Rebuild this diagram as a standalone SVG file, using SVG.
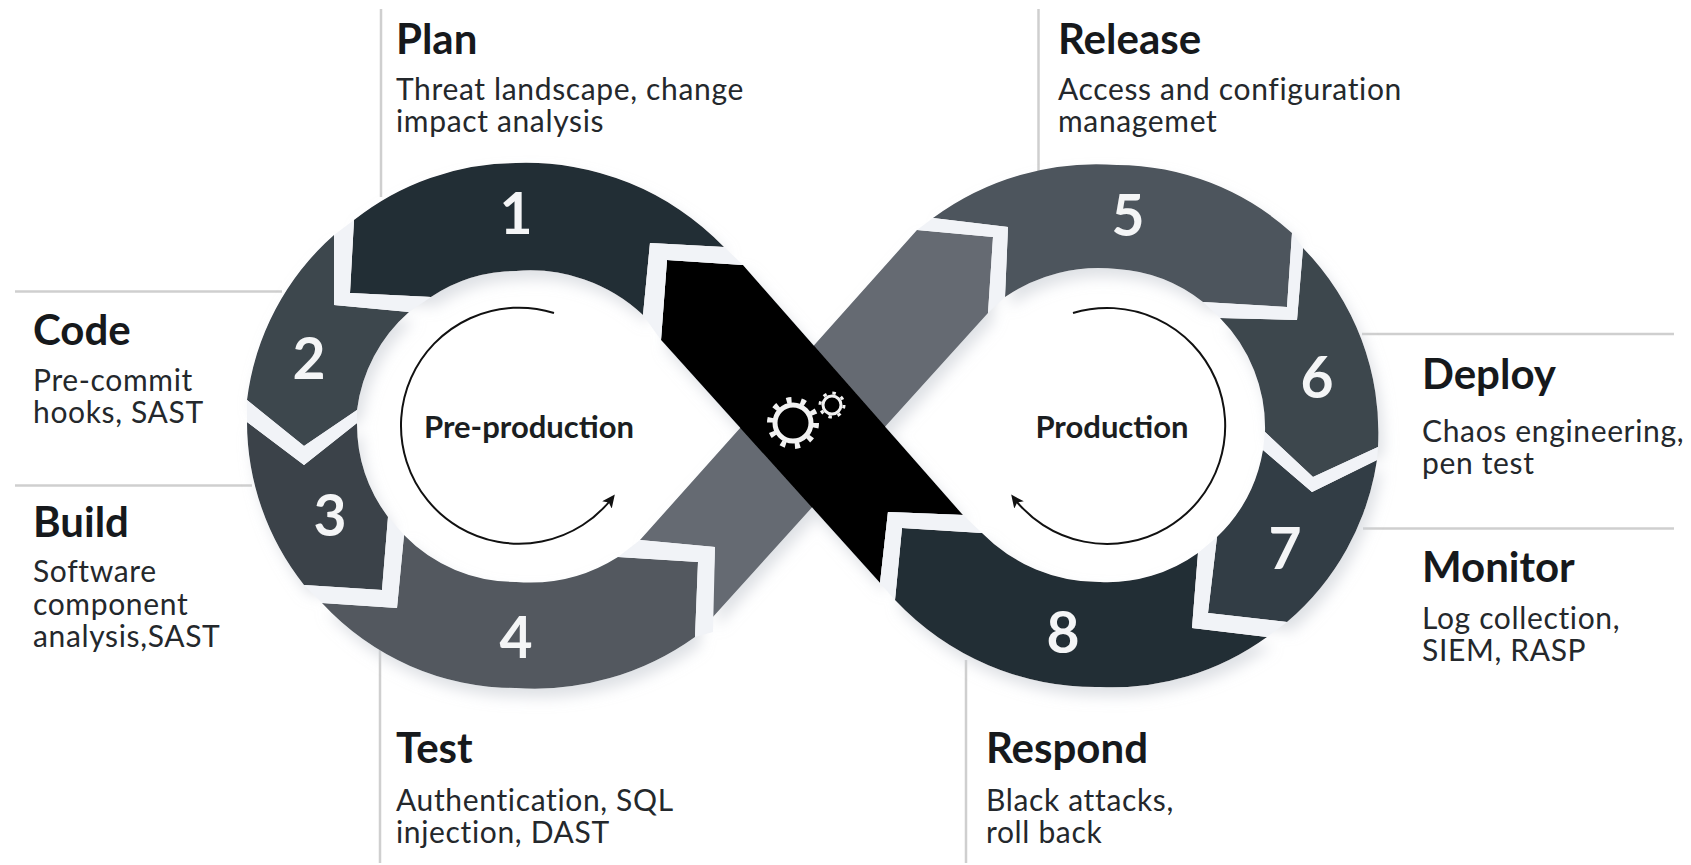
<svg xmlns="http://www.w3.org/2000/svg" width="1691" height="865" viewBox="0 0 1691 865">
<style>
.gap{fill:#f1f3f7}
.lead{stroke:#cfcfcf;stroke-width:2.5;fill:none}
.num{font-family:"Lato","Liberation Sans",sans-serif;font-size:57px;font-weight:700;fill:#f4f5f6;text-anchor:middle}
.head{font-family:"Lato","Liberation Sans",sans-serif;font-size:42px;font-weight:700;fill:#16191c}
.sub{font-family:"Lato","Liberation Sans",sans-serif;font-size:30px;fill:#24282c;letter-spacing:.65px}
.mid{font-family:"Lato","Liberation Sans",sans-serif;font-size:31px;font-weight:700;fill:#1b1e21;text-anchor:middle}
.flow{fill:none;stroke:#111;stroke-width:2}
</style>
<defs>
<filter id="soft" x="-10%" y="-10%" width="120%" height="125%"><feDropShadow dx="5" dy="9" stdDeviation="7" flood-color="#c9cdd4" flood-opacity=".6"/></filter>
<marker id="head" markerWidth="14" markerHeight="14" refX="10" refY="6" orient="auto" markerUnits="userSpaceOnUse"><path d="M0 0L13 6L0 12L3 6Z" fill="#111"/></marker>
</defs>
<rect width="1691" height="865" fill="#fff"/>
<g id="connectors">
<path class="lead" d="M381 9V197"/>
<path class="lead" d="M1038.500 9V172"/>
<path class="lead" d="M15 291.500H282"/>
<path class="lead" d="M15 485.500H252"/>
<path class="lead" d="M380 650V863"/>
<path class="lead" d="M966 660V863"/>
<path class="lead" d="M1362 334H1674"/>
<path class="lead" d="M1363 528.500H1674"/>
</g>
<g id="shapes" filter="url(#soft)">
<g id="bar-gray"><path fill="#656a72" d="M640 540L917 230L993 237L988 313L712 618L715 547Z"/></g>
<g id="bar-black"><path fill="#000" d="M667 260L743 265L963 515L888 512L880 583L661 340Z"/></g>
<path fill="#232d35" d="M354 220A263 263 0 0 1 516 163A275 275 0 0 1 724 247L650 243L643 315A165 165 0 0 0 516 271A155 155 0 0 0 431 297L350 293Z"/>
<path fill="#3d464e" d="M334 235A263 263 0 0 0 247 400L304 446L357 410A156 156 0 0 1 409 312L334 305Z"/>
<path fill="#3a4249" d="M247 422A263 263 0 0 0 304 585L382 590L388 517A156 156 0 0 1 357 423L304 465Z"/>
<path fill="#52585f" d="M404 535L397 608L322 603A263 263 0 0 0 516 688A275 275 0 0 0 695 637L698 562L618 557A165 165 0 0 1 516 582A155 155 0 0 1 404 535Z"/>
<path fill="#4e555d" d="M933 218A275 275 0 0 1 1117 165A263 263 0 0 1 1292 233L1287 307L1203 302A155 155 0 0 0 1117 269A165 165 0 0 0 1005 297L1008 227Z"/>
<path fill="#3d464e" d="M1303 248A263 263 0 0 1 1378 447L1313 477L1265 432A156 156 0 0 0 1220 318L1297 320Z"/>
<path fill="#333c44" d="M1263 450L1312 492L1377 460A263 263 0 0 1 1287 622L1208 613L1217 537A156 156 0 0 0 1263 450Z"/>
<path fill="#232d35" d="M1198 553L1192 628L1267 637A263 263 0 0 1 1100 687A275 275 0 0 1 895 600L902 528L982 533A165 165 0 0 0 1100 582A155 155 0 0 0 1198 553Z"/>
</g>
<g id="gaps">
<path class="gap" d="M334 235L354 220L350 293L431 297L409 312L334 305Z"/>
<path class="gap" d="M247 400L304 446L357 410L357 423L304 465L247 422Z"/>
<path class="gap" d="M388 517L382 590L304 585L322 603L397 608L404 535Z"/>
<path class="gap" d="M640 540L715 547L713 632L695 637L698 562L618 557Z"/>
<path class="gap" d="M917 230L993 237L988 313L1005 297L1008 227L933 218Z"/>
<path class="gap" d="M1203 302L1287 307L1292 233L1303 248L1297 320L1220 318Z"/>
<path class="gap" d="M1265 432L1313 477L1378 447L1377 460L1312 492L1263 450Z"/>
<path class="gap" d="M1217 537L1208 613L1287 622L1267 637L1192 628L1198 553Z"/>
<path class="gap" d="M902 528L982 533L963 515L888 512L880 583L895 600Z"/>
<path class="gap" d="M667 260L743 265L724 247L650 243L643 315L661 340Z"/>
</g>
<g id="gears" fill="none" stroke="#f2f2f2">
<circle cx="793" cy="423" r="18" stroke-width="5"/>
<circle cx="793" cy="423" r="23" stroke-width="6" stroke-dasharray="5 9.450"/>
<circle cx="832" cy="405" r="9" stroke-width="3"/>
<circle cx="832" cy="405" r="12" stroke-width="3" stroke-dasharray="3.500 5.920"/>
</g>
<g id="pre-production">
<path class="flow" marker-end="url(#head)" d="M554 313A118 118 0 1 0 613 497"/>
<text class="mid" x="529" y="438">Pre-production</text>
</g>
<g id="production">
<path class="flow" marker-end="url(#head)" d="M1073 313A118 118 0 1 1 1013 497"/>
<text class="mid" x="1112" y="438">Production</text>
</g>
<g id="step-1"><text class="num" x="516" y="234">1</text><text class="head" x="396" y="54">Plan</text><text class="sub" x="396" y="100">Threat landscape, change</text><text class="sub" x="396" y="132">impact analysis</text></g>
<g id="step-2"><text class="num" x="309" y="379">2</text><text class="head" x="33" y="345">Code</text><text class="sub" x="33" y="391">Pre-commit</text><text class="sub" x="33" y="423">hooks, SAST</text></g>
<g id="step-3"><text class="num" x="330" y="536">3</text><text class="head" x="33" y="537">Build</text><text class="sub" x="33" y="582">Software</text><text class="sub" x="33" y="615">component</text><text class="sub" x="33" y="647">analysis,SAST</text></g>
<g id="step-4"><text class="num" x="516" y="658">4</text><text class="head" x="396" y="763">Test</text><text class="sub" x="396" y="811">Authentication, SQL</text><text class="sub" x="396" y="843">injection, DAST</text></g>
<g id="step-5"><text class="num" x="1128" y="236">5</text><text class="head" x="1058" y="54">Release</text><text class="sub" x="1058" y="100">Access and configuration</text><text class="sub" x="1058" y="132">managemet</text></g>
<g id="step-6"><text class="num" x="1317" y="398">6</text><text class="head" x="1422" y="389">Deploy</text><text class="sub" x="1422" y="442">Chaos engineering,</text><text class="sub" x="1422" y="474">pen test</text></g>
<g id="step-7"><text class="num" x="1285" y="569">7</text><text class="head" x="1422" y="582">Monitor</text><text class="sub" x="1422" y="629">Log collection,</text><text class="sub" x="1422" y="661">SIEM, RASP</text></g>
<g id="step-8"><text class="num" x="1063" y="653">8</text><text class="head" x="986" y="763">Respond</text><text class="sub" x="986" y="811">Black attacks,</text><text class="sub" x="986" y="843">roll back</text></g>
</svg>
